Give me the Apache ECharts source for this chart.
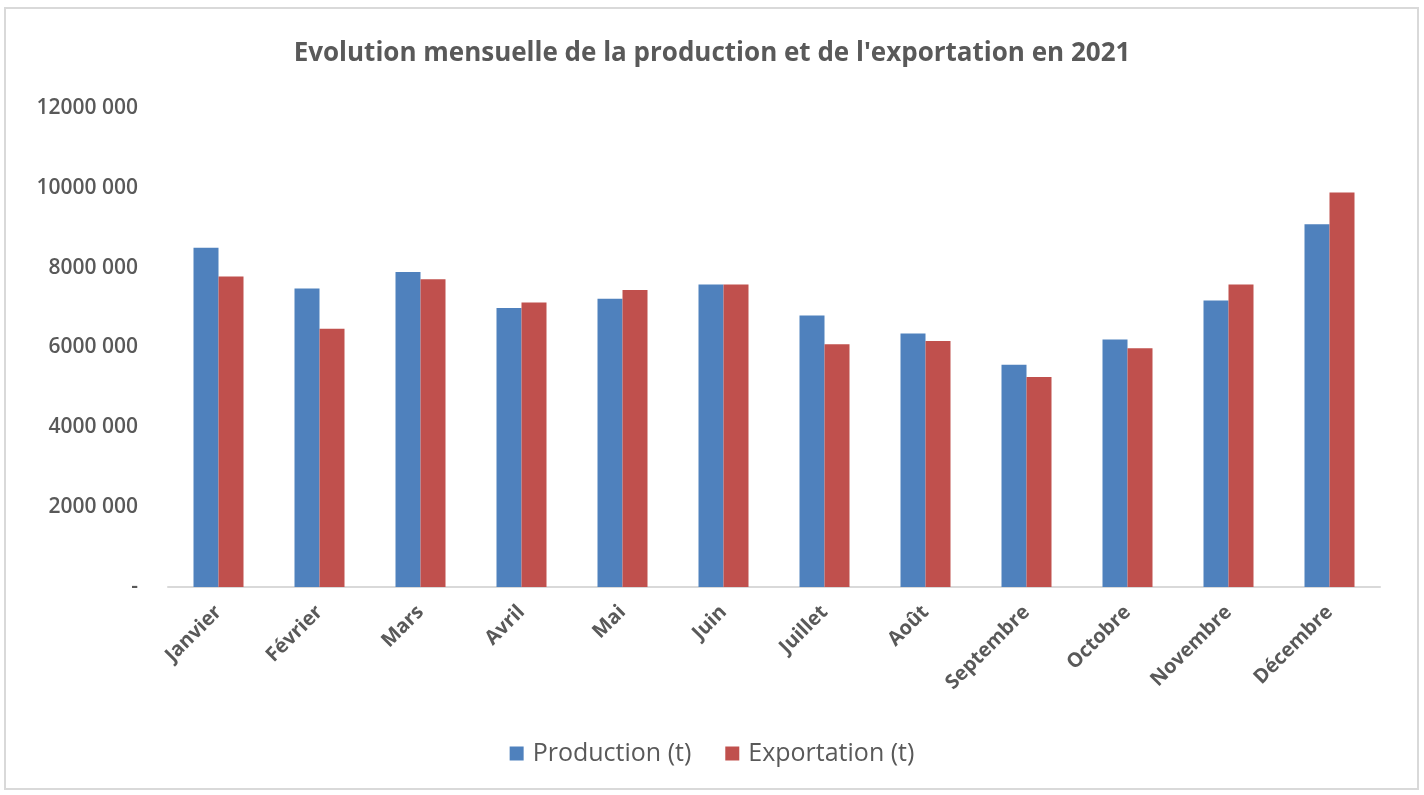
<!DOCTYPE html>
<html>
<head>
<meta charset="utf-8">
<script src="https://cdn.jsdelivr.net/npm/echarts@6/dist/echarts.min.js"></script>
<style>
  html, body { margin: 0; padding: 0; background: #fff; }
  #chart { width: 1424px; height: 795px; }
</style>
</head>
<body>
<div id="chart"></div>
<script>
const months = ['Janvier', 'Février', 'Mars', 'Avril', 'Mai', 'Juin', 'Juillet', 'Août', 'Septembre', 'Octobre', 'Novembre', 'Décembre']
const production = [8500000, 7480000, 7890000, 6990000, 7220000, 7580000, 6800000, 6350000, 5570000, 6200000, 7180000, 9090000]
const exportation = [7780000, 6470000, 7710000, 7130000, 7440000, 7580000, 6080000, 6160000, 5260000, 5980000, 7580000, 9880000]
const yTickValues = [0, 2000000, 4000000, 6000000, 8000000, 10000000, 12000000]
const yTickLabels = ['-', '2000 000', '4000 000', '6000 000', '8000 000', '10000 000', '12000 000']

const textColor = '#595959'
const font = '"Open Sans", "Liberation Sans", sans-serif'

const chart = echarts.init(document.getElementById('chart'))

chart.setOption({
  animation: false,
  backgroundColor: '#fff',
  title: {
    text: "Evolution mensuelle de la production et de l'exportation en 2021",
    left: 'center',
    top: 36,
    textStyle: { color: textColor, fontSize: 26, fontWeight: 'bold', fontFamily: font }
  },
  legend: {
    bottom: 24,
    left: 'center',
    itemWidth: 14,
    itemHeight: 14,
    itemGap: 34,
    icon: 'rect',
    textStyle: { color: textColor, fontSize: 25, fontFamily: font, padding: [0, 0, 0, 4] }
  },
  grid: { left: 168, right: 44, top: 108, bottom: 208 },
  xAxis: {
    type: 'category',
    data: months,
    axisLine: { lineStyle: { color: '#d9d9d9', width: 2 } },
    axisTick: { show: false },
    axisLabel: {
      rotate: 45,
      color: textColor,
      fontSize: 20,
      fontWeight: 'bold',
      fontFamily: font,
      margin: 22
    }
  },
  yAxis: {
    type: 'value',
    min: 0,
    max: 12000000,
    interval: 2000000,
    axisLine: { show: false },
    axisTick: { show: false },
    splitLine: { show: false },
    axisLabel: {
      color: textColor,
      fontSize: 21,
      fontWeight: 600,
      fontFamily: font,
      margin: 30,
      formatter: v => yTickLabels[yTickValues.indexOf(v)]
    }
  },
  series: [
    {
      name: 'Production (t)',
      type: 'bar',
      data: production,
      barWidth: 25,
      barGap: '0%',
      itemStyle: { color: '#4f81bd' }
    },
    {
      name: 'Exportation (t)',
      type: 'bar',
      data: exportation,
      barWidth: 25,
      barGap: '0%',
      itemStyle: { color: '#c0504d' }
    }
  ],
  graphic: [
    {
      type: 'rect',
      shape: { x: 5, y: 8, width: 1413, height: 781 },
      style: { fill: 'none', stroke: '#d9d9d9', lineWidth: 2 },
      silent: true
    }
  ]
})
</script>
</body>
</html>
